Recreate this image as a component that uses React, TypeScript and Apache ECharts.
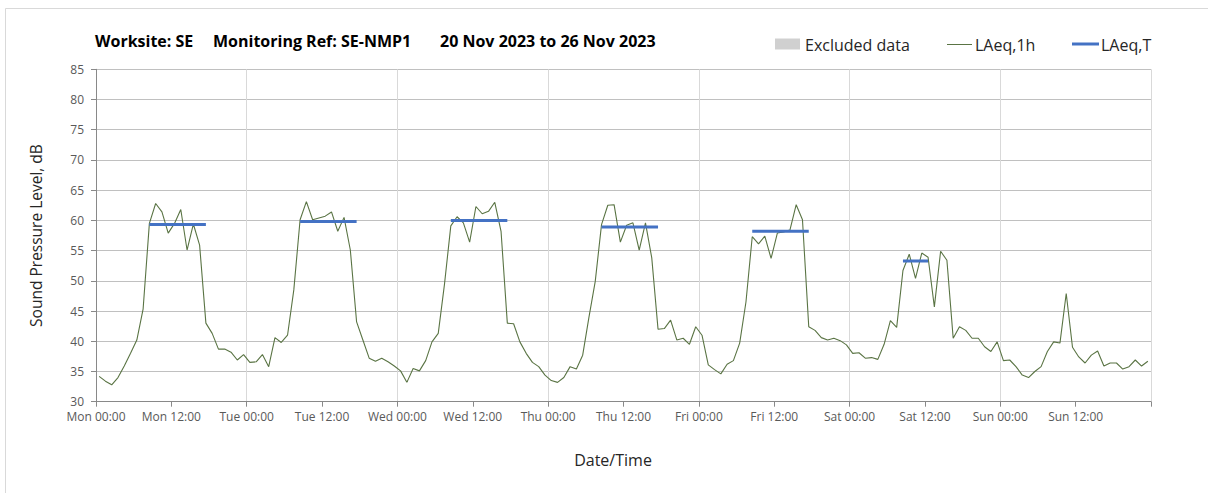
import React, { useEffect, useRef } from "react";
import * as echarts from "echarts";

// Hourly LAeq,1h values, Mon 00:00 .. Sun 23:00 (20–26 Nov 2023)
const laeq1h: number[] = [
  // Mon
  34.2, 33.4, 32.8, 34.0, 35.9, 38.0, 40.2, 45.3, 59.5, 62.8, 61.4, 57.9, 59.5, 61.8, 55.1, 59.4, 55.9, 43.0, 41.3, 38.7, 38.7, 38.2, 36.9, 37.8,
  // Tue
  36.5, 36.6, 37.8, 35.8, 40.6, 39.8, 41.0, 48.5, 60.1, 63.1, 60.1, 60.4, 60.7, 61.4, 58.2, 60.5, 55.1, 43.2, 40.2, 37.2, 36.7, 37.2, 36.6, 35.9,
  // Wed
  35.1, 33.2, 35.5, 35.1, 36.8, 39.9, 41.3, 49.5, 59.1, 60.6, 59.6, 56.4, 62.3, 61.1, 61.5, 63.0, 58.2, 43.0, 42.9, 39.9, 38.0, 36.5, 35.8, 34.4,
  // Thu
  33.5, 33.2, 34.0, 35.8, 35.4, 37.7, 44.0, 49.9, 59.3, 62.5, 62.6, 56.4, 59.2, 59.6, 55.1, 59.6, 53.8, 42.0, 42.1, 43.5, 40.2, 40.5, 39.5, 42.4,
  // Fri
  41.0, 36.1, 35.3, 34.6, 36.2, 36.8, 39.7, 46.5, 57.3, 56.1, 57.4, 53.7, 57.9, 58.1, 58.4, 62.6, 60.1, 42.4, 41.8, 40.6, 40.2, 40.5, 40.1, 39.4,
  // Sat
  38.0, 38.1, 37.2, 37.3, 37.0, 39.5, 43.4, 42.3, 51.7, 54.4, 50.4, 54.6, 53.9, 45.7, 54.9, 53.4, 40.5, 42.4, 41.8, 40.5, 40.5, 39.1, 38.3, 39.9,
  // Sun
  36.8, 36.9, 35.8, 34.4, 34.0, 35.0, 35.8, 38.3, 39.9, 39.7, 47.9, 39.0, 37.4, 36.4, 37.7, 38.4, 35.9, 36.4, 36.4, 35.4, 35.8, 36.9, 35.9, 36.7,
];

// LAeq,T assessment periods (hours from Mon 00:00)
const periodStart: number[] = [8, 32, 56, 80, 104, 128];
const periodEnd: number[] = [18, 42, 66, 90, 114, 133];
const laeqT: number[] = [59.3, 59.8, 60.0, 58.9, 58.2, 53.3];

const dayNames: string[] = ["Mon", "Tue", "Wed", "Thu", "Fri", "Sat", "Sun"];
const timeLabels: string[] = ["00:00", "12:00"];

const titleParts: string[] = ["Worksite: SE", "Monitoring Ref: SE-NMP1", "20 Nov 2023 to 26 Nov 2023"];
const legendNames: string[] = ["Excluded data", "LAeq,1h", "LAeq,T"];
const xAxisName = "Date/Time";
const yAxisName = "Sound Pressure Level, dB";

const FONT = "'Open Sans', 'Noto Sans', sans-serif";
const GREEN = "#5a7444";
const BLUE = "#4472C4";

export default function App() {
  const ref = useRef<HTMLDivElement>(null);

  useEffect(() => {
    if (!ref.current) return;
    const chart = echarts.init(ref.current, undefined, { renderer: "svg" });

    const hourly = laeq1h.map((v, i) => [i + 0.5, v]);
    const tData: any[] = [];
    periodStart.forEach((s, k) => {
      tData.push([s + 0.5, laeqT[k]]);
      tData.push([periodEnd[k] - 0.5, laeqT[k]]);
      tData.push([periodEnd[k] - 0.5, "-"]);
    });

    chart.setOption({
      animation: false,
      backgroundColor: "#ffffff",
      textStyle: { fontFamily: FONT },
      grid: { left: 96, right: 57, top: 69.3, bottom: 91.3, containLabel: false },
      xAxis: [
        {
          type: "value",
          min: 0,
          max: 168,
          interval: 12,
          axisLine: { show: true, lineStyle: { color: "#898989", width: 1 } },
          axisTick: { show: true, length: 5, lineStyle: { color: "#898989" } },
          axisLabel: {
            fontSize: 12,
            color: "#595959",
            fontFamily: FONT,
            margin: 9,
            formatter: (v: number) => {
              if (v >= 168) return "";
              const d = Math.floor(v / 24);
              return dayNames[d] + " " + timeLabels[(v % 24) / 12];
            },
          },
          splitLine: { show: false },
        },
        {
          type: "value",
          min: 0,
          max: 168,
          interval: 24,
          position: "bottom",
          axisLine: { show: false },
          axisTick: { show: false },
          axisLabel: { show: false },
          splitLine: { show: true, lineStyle: { color: "#d9d9d9", width: 1 } },
        },
      ],
      yAxis: {
        type: "value",
        min: 30,
        max: 85,
        interval: 5,
        name: yAxisName,
        nameLocation: "middle",
        nameRotate: 90,
        nameGap: 52,
        nameTextStyle: { fontSize: 15.5, color: "#262626", fontFamily: FONT },
        axisLine: { show: true, lineStyle: { color: "#898989", width: 1 } },
        axisTick: { show: true, length: 5, lineStyle: { color: "#898989" } },
        axisLabel: { fontSize: 12, color: "#595959", fontFamily: FONT, margin: 12 },
        splitLine: { show: true, lineStyle: { color: "#c0c0c0", width: 1 } },
      },
      series: [
        {
          name: legendNames[1],
          type: "line",
          xAxisIndex: 0,
          data: hourly,
          symbol: "none",
          showSymbol: false,
          lineStyle: { color: GREEN, width: 1.1 },
          z: 2,
        },
        {
          name: legendNames[2],
          type: "line",
          xAxisIndex: 0,
          data: tData,
          symbol: "none",
          showSymbol: false,
          connectNulls: false,
          lineStyle: { color: BLUE, width: 3, cap: "butt" },
          z: 3,
        },
      ],
      graphic: [
        { type: "line", shape: { x1: 5.5, y1: 8.5, x2: 1208, y2: 8.5 }, style: { stroke: "#d9d9d9", lineWidth: 1 } },
        { type: "line", shape: { x1: 5.5, y1: 8.5, x2: 5.5, y2: 493 }, style: { stroke: "#d9d9d9", lineWidth: 1 } },
        { type: "text", x: 95, y: 41, style: { text: titleParts[0], fontSize: 16, fontWeight: "bold", fill: "#000", fontFamily: FONT, verticalAlign: "middle" } },
        { type: "text", x: 213, y: 41, style: { text: titleParts[1], fontSize: 16, fontWeight: "bold", fill: "#000", fontFamily: FONT, verticalAlign: "middle" } },
        { type: "text", x: 440, y: 41, style: { text: titleParts[2], fontSize: 16, fontWeight: "bold", fill: "#000", fontFamily: FONT, verticalAlign: "middle" } },
        { type: "rect", shape: { x: 775, y: 38.5, width: 25, height: 11 }, style: { fill: "#d0d0d0" } },
        { type: "text", x: 805, y: 44.5, style: { text: legendNames[0], fontSize: 16, fill: "#262626", fontFamily: FONT, verticalAlign: "middle" } },
        { type: "line", shape: { x1: 947, y1: 44.5, x2: 972, y2: 44.5 }, style: { stroke: GREEN, lineWidth: 1 } },
        { type: "text", x: 975, y: 44.5, style: { text: legendNames[1], fontSize: 16, fill: "#262626", fontFamily: FONT, verticalAlign: "middle" } },
        { type: "line", shape: { x1: 1072, y1: 44, x2: 1099, y2: 44 }, style: { stroke: BLUE, lineWidth: 3 } },
        { type: "text", x: 1101, y: 44.5, style: { text: legendNames[2], fontSize: 16, fill: "#262626", fontFamily: FONT, verticalAlign: "middle" } },
        { type: "text", x: 613, y: 460, style: { text: xAxisName, fontSize: 16, fill: "#262626", fontFamily: FONT, align: "center", verticalAlign: "middle" } },
      ],
    });

    return () => chart.dispose();
  }, []);

  return (
    <div
      ref={ref}
      style={{ position: "absolute", left: 0, top: 0, width: 1208, height: 493 }}
    />
  );
}
